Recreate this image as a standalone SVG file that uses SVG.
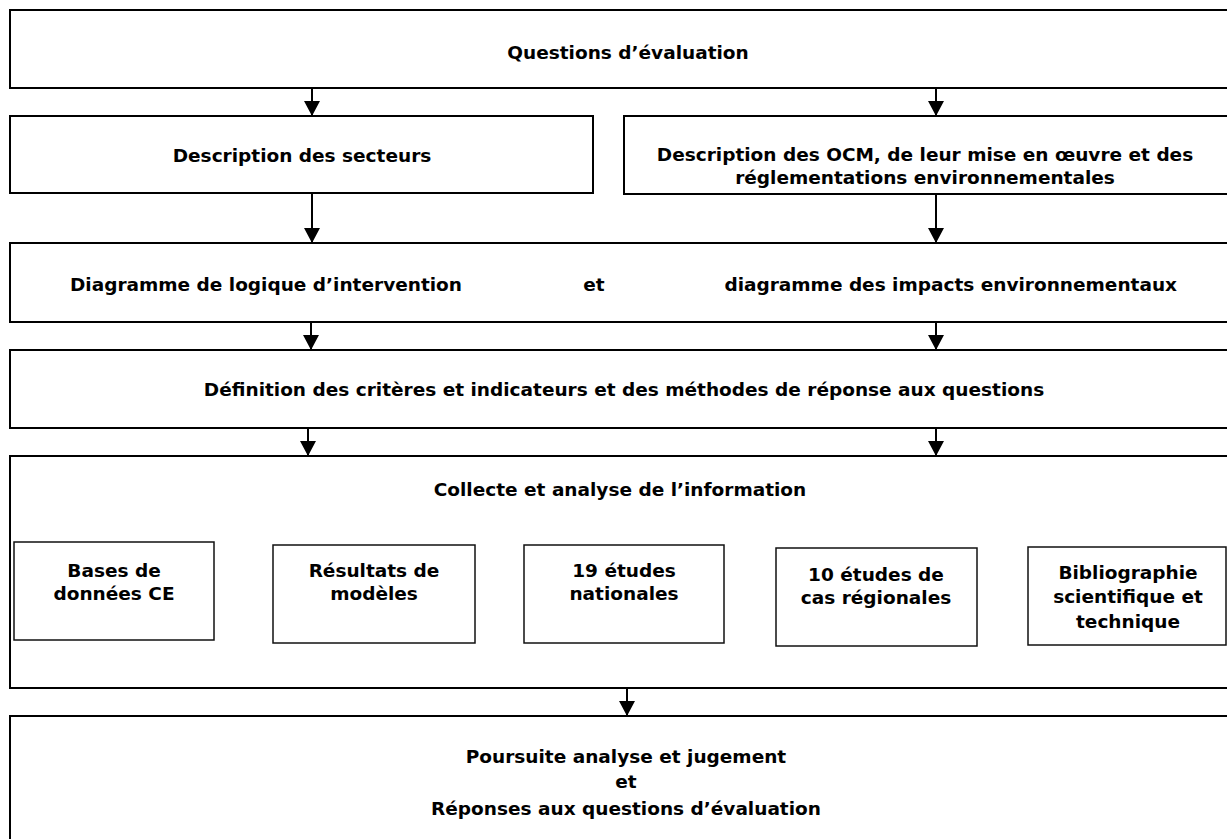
<svg xmlns="http://www.w3.org/2000/svg" width="1227" height="839" viewBox="0 0 1227 839">
<style>
.box{fill:#fff;stroke:#000;stroke-width:2}
.ibox{fill:#fff;stroke:#111;stroke-width:1.5}
.t{font-family:"DejaVu Sans",Verdana,sans-serif;font-weight:bold;font-size:18.5px;fill:#000}
.c{text-anchor:middle}
.arr{stroke:#000;stroke-width:2;fill:none;marker-end:url(#ah)}
</style>
<defs>
<marker id="ah" markerUnits="userSpaceOnUse" markerWidth="16" markerHeight="16" viewBox="0 0 16 16" refX="15" refY="8" orient="auto">
<path d="M0,0 L15,8 L0,16 Z" fill="#000"/>
</marker>
</defs>
<rect width="1227" height="839" fill="#fff"/>
<g id="n1"><rect class="box" x="10" y="10" width="1240" height="78"/><text class="t c" x="628" y="59">Questions d’évaluation</text></g>
<g id="n2"><rect class="box" x="10" y="116" width="583" height="77"/><text class="t c" x="302" y="162">Description des secteurs</text></g>
<g id="n3"><rect class="box" x="624" y="116" width="620" height="78"/><text class="t c" x="925" y="161">Description des OCM, de leur mise en œuvre et des</text><text class="t c" x="925" y="184">réglementations environnementales</text></g>
<g id="n4"><rect class="box" x="10" y="243" width="1240" height="79"/><text class="t" x="70" y="291">Diagramme de logique d’intervention</text><text class="t c" x="594" y="291">et</text><text class="t" x="1177" y="291" text-anchor="end">diagramme des impacts environnementaux</text></g>
<g id="n5"><rect class="box" x="10" y="350" width="1240" height="78"/><text class="t c" x="624" y="396">Définition des critères et indicateurs et des méthodes de réponse aux questions</text></g>
<g id="n6"><rect class="box" x="10" y="456" width="1240" height="232"/><text class="t c" x="620" y="496">Collecte et analyse de l’information</text></g>
<g id="n7"><rect class="ibox" x="14" y="542" width="200" height="98"/><text class="t c" x="114" y="577">Bases de</text><text class="t c" x="114" y="600">données CE</text></g>
<g id="n8"><rect class="ibox" x="273" y="545" width="202" height="98"/><text class="t c" x="374" y="577">Résultats de</text><text class="t c" x="374" y="600">modèles</text></g>
<g id="n9"><rect class="ibox" x="524" y="545" width="200" height="98"/><text class="t c" x="624" y="577">19 études</text><text class="t c" x="624" y="600">nationales</text></g>
<g id="n10"><rect class="ibox" x="776" y="548" width="201" height="98"/><text class="t c" x="876" y="581">10 études de</text><text class="t c" x="876" y="604">cas régionales</text></g>
<g id="n11"><rect class="ibox" x="1028" y="547" width="198" height="98"/><text class="t c" x="1128" y="579">Bibliographie</text><text class="t c" x="1128" y="603">scientifique et</text><text class="t c" x="1128" y="628">technique</text></g>
<g id="n12"><rect class="box" x="10" y="716" width="1240" height="140"/><text class="t c" x="626" y="763">Poursuite analyse et jugement</text><text class="t c" x="626" y="788">et</text><text class="t c" x="626" y="815">Réponses aux questions d’évaluation</text></g>
<g id="connectors">
<line class="arr" x1="312" y1="89" x2="312" y2="116"/>
<line class="arr" x1="936" y1="89" x2="936" y2="116"/>
<line class="arr" x1="312" y1="193" x2="312" y2="243"/>
<line class="arr" x1="936" y1="194" x2="936" y2="243"/>
<line class="arr" x1="311" y1="322" x2="311" y2="350"/>
<line class="arr" x1="936" y1="322" x2="936" y2="350"/>
<line class="arr" x1="308" y1="428" x2="308" y2="456"/>
<line class="arr" x1="936" y1="428" x2="936" y2="456"/>
<line class="arr" x1="627" y1="688" x2="627" y2="716"/>
</g>
</svg>
